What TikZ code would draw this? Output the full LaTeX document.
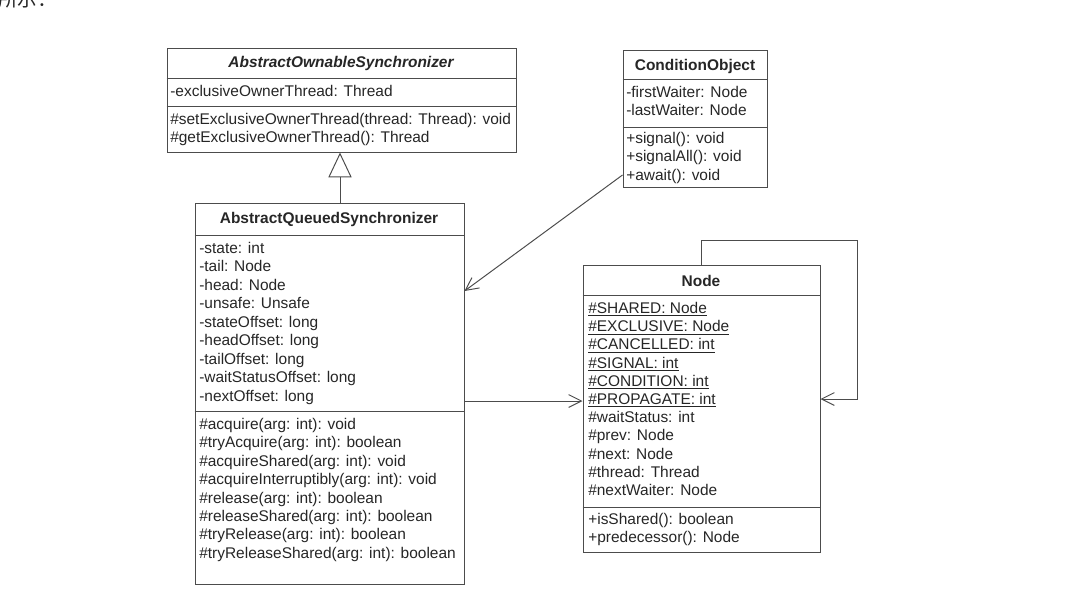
\documentclass[tikz,border=0pt]{standalone}
\usepackage{fontspec}
\setmainfont{Liberation Sans}
\newfontfamily\cjk{Noto Sans CJK SC}
\usetikzlibrary{arrows.meta,fit}

\tikzset{
  classbox/.style={draw=black!70, line width=0.7pt, inner sep=0pt},
  sepline/.style={draw=black!70, line width=0.7pt},
  clstitle/.style={font=\fontsize{11}{13}\selectfont\bfseries, text=black!85, inner sep=0pt},
  member/.style={font=\fontsize{11}{13}\selectfont, text=black!85, anchor=west, inner sep=0pt, text height=1.6ex, text depth=0.4ex},
  inherit/.style={draw=black!70, line width=0.7pt, -{Triangle[open, length=0.62cm, width=0.58cm, fill=white]}},
  assoc/.style={draw=black!70, line width=0.7pt, -{Straight Barb[length=0.32cm, width=0.32cm]}},
}

\begin{document}
\begin{tikzpicture}[x=0.025cm, y=-0.025cm]
	\useasboundingbox (0,0) rectangle (1071,595);
	
	%CUT-OFF LINE OF TEXT ABOVE
	\node[anchor=base west, inner sep=0pt, font=\cjk\fontsize{14}{16}\selectfont, text=black!85] (cut) at (-2,6) {所示：};
	
	%ABSTRACT OWNABLE SYNCHRONIZER
	\node[classbox, fit={(167,48) (516,152)}] (aos) {};
	\node[clstitle] (aostitle) at (341,63) {\itshape AbstractOwnableSynchronizer};
	\draw[sepline] (aos.west |- 0,78) -- (aos.east |- 0,78);
	\draw[sepline] (aos.west |- 0,106) -- (aos.east |- 0,106);
	\node[member] (aosa0) at (170,92) {-exclusiveOwnerThread: Thread};
	\foreach \t [count=\i from 0] in {\#setExclusiveOwnerThread(thread: Thread): void, \#getExclusiveOwnerThread(): Thread}
		\node[member] (aosm\i) at (170,{120+18.5*\i}) {\t};
	
	%CONDITION OBJECT
	\node[classbox, fit={(623,50) (767,187)}] (condobj) {};
	\node[clstitle] (condtitle) at (695,66) {ConditionObject};
	\draw[sepline] (condobj.west |- 0,79) -- (condobj.east |- 0,79);
	\draw[sepline] (condobj.west |- 0,127) -- (condobj.east |- 0,127);
	\foreach \t [count=\i from 0] in {-firstWaiter: Node, -lastWaiter: Node}
		\node[member] (conda\i) at (626,{93+18.3*\i}) {\t};
	\foreach \t [count=\i from 0] in {+signal(): void, +signalAll(): void, +await(): void}
		\node[member] (condm\i) at (626,{139+18.3*\i}) {\t};
	
	%ABSTRACT QUEUED SYNCHRONIZER
	\node[classbox, fit={(195,203) (464,584)}] (aqs) {};
	\node[clstitle] (aqstitle) at (329,219) {AbstractQueuedSynchronizer};
	\draw[sepline] (aqs.west |- 0,235) -- (aqs.east |- 0,235);
	\draw[sepline] (aqs.west |- 0,411) -- (aqs.east |- 0,411);
	\foreach \t [count=\i from 0] in {-state: int, -tail: Node, -head: Node, -unsafe: Unsafe, -stateOffset: long, -headOffset: long, -tailOffset: long, -waitStatusOffset: long, -nextOffset: long}
		\node[member] (aqsa\i) at (199,{249+18.5*\i}) {\t};
	\foreach \t [count=\i from 0] in {\#acquire(arg: int): void, \#tryAcquire(arg: int): boolean, \#acquireShared(arg: int): void, \#acquireInterruptibly(arg: int): void, \#release(arg: int): boolean, \#releaseShared(arg: int): boolean, \#tryRelease(arg: int): boolean, \#tryReleaseShared(arg: int): boolean}
		\node[member] (aqsm\i) at (199,{425+18.4*\i}) {\t};
	
	%NODE
	\node[classbox, fit={(583,265) (820,552)}] (qnode) {};
	\node[clstitle] (qnodetitle) at (701,281) {Node};
	\draw[sepline] (qnode.west |- 0,295) -- (qnode.east |- 0,295);
	\draw[sepline] (qnode.west |- 0,507) -- (qnode.east |- 0,507);
	\foreach \t [count=\i from 0] in {\underline{\#SHARED: Node}, \underline{\#EXCLUSIVE: Node}, \underline{\#CANCELLED: int}, \underline{\#SIGNAL: int}, \underline{\#CONDITION: int}, \underline{\#PROPAGATE: int}, \#waitStatus: int, \#prev: Node, \#next: Node, \#thread: Thread, \#nextWaiter: Node}
		\node[member] (qnodea\i) at (588,{309+18.2*\i}) {\t};
	\foreach \t [count=\i from 0] in {+isShared(): boolean, +predecessor(): Node}
		\node[member] (qnodem\i) at (588,{520+18.2*\i}) {\t};
	
	%CONNECTORS
	\coordinate (inh) at (340,0);
	\coordinate (cstart) at (0,175);
	\coordinate (cend) at (0,291);
	\coordinate (nlink) at (0,401);
	\coordinate (loopa) at (701,240);
	\coordinate (loopb) at (857,240);
	\coordinate (loopc) at (0,399);
	\draw[inherit] (aqs.north -| inh) -- (aos.south -| inh);
	\draw[assoc] (condobj.west |- cstart) -- (aqs.east |- cend);
	\draw[assoc] (aqs.east |- nlink) -- (qnode.west |- nlink);
	\draw[assoc] (qnode.north -| loopa) -- (loopa) -- (loopb) -- (loopb |- loopc) -- (qnode.east |- loopc);
\end{tikzpicture}
\end{document}
